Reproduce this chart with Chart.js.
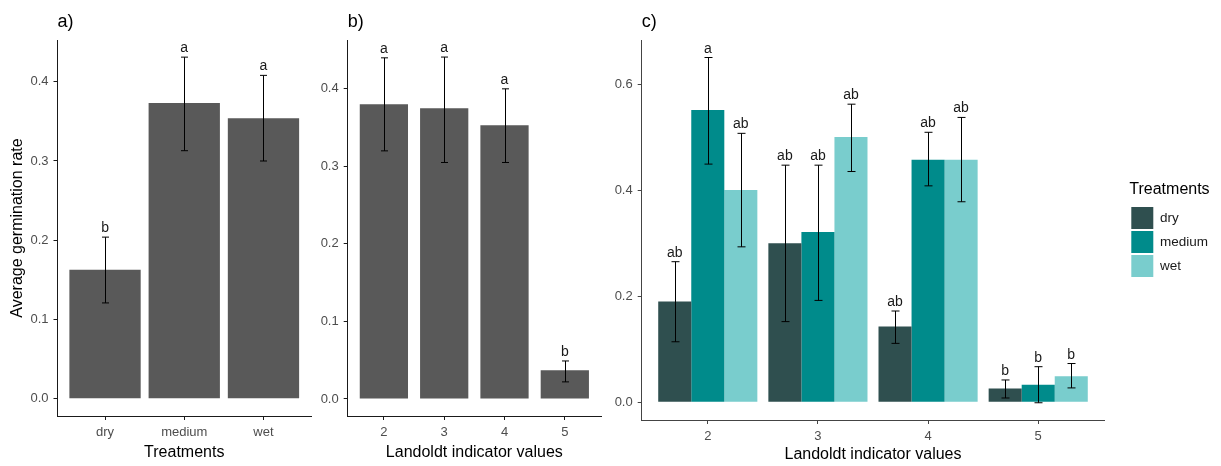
<!DOCTYPE html>
<html>
<head>
<meta charset="utf-8">
<script src="https://cdn.jsdelivr.net/npm/chart.js@4.4.1/dist/chart.umd.min.js"></script>
<style>
  html, body { margin: 0; padding: 0; background: #fff; }
  #wrap { position: relative; width: 1221px; height: 466px; overflow: hidden; }
  canvas { position: absolute; top: 0; }
</style>
</head>
<body>
<div id="wrap">
  <canvas id="chartA" width="330" height="466" style="left:0px"></canvas>
  <canvas id="chartB" width="300" height="466" style="left:310px"></canvas>
  <canvas id="chartC" width="611" height="466" style="left:610px"></canvas>
</div>
<script>
// a) germination by treatment
const treatments = ['dry', 'medium', 'wet'];
const rateByTreatment = [0.163, 0.373, 0.354];
const lowByTreatment = [0.121, 0.313, 0.300];
const highByTreatment = [0.204, 0.431, 0.408];
const lettersByTreatment = ['b', 'a', 'a'];

// b) germination by Landoldt value
const landoldt = ['2', '3', '4', '5'];
const rateByLandoldt = [0.380, 0.375, 0.353, 0.037];
const lowByLandoldt = [0.320, 0.305, 0.305, 0.022];
const highByLandoldt = [0.440, 0.441, 0.400, 0.049];
const lettersByLandoldt = ['a', 'a', 'a', 'b'];

// c) both together
const dryRate = [0.190, 0.300, 0.143, 0.026];
const dryLow = [0.114, 0.152, 0.111, 0.008];
const dryHigh = [0.265, 0.447, 0.172, 0.042];
const dryLetters = ['ab', 'ab', 'ab', 'b'];
const mediumRate = [0.551, 0.321, 0.457, 0.033];
const mediumLow = [0.449, 0.192, 0.408, -0.001];
const mediumHigh = [0.650, 0.447, 0.509, 0.067];
const mediumLetters = ['a', 'ab', 'ab', 'b'];
const wetRate = [0.400, 0.500, 0.457, 0.049];
const wetLow = [0.293, 0.435, 0.378, 0.027];
const wetHigh = [0.507, 0.562, 0.537, 0.073];
const wetLetters = ['ab', 'ab', 'ab', 'b'];

const ticksAB = [0, 0.1, 0.2, 0.3, 0.4];
const ticksC = [0, 0.2, 0.4, 0.6];

const FONT = '"Liberation Sans", Arial, sans-serif';

// error bars + significance letters
const errorBars = {
    id: 'errorBars',
    afterDatasetsDraw(chart, args, opts) {
        const ctx = chart.ctx;
        const y = chart.scales.y;
        chart.data.datasets.forEach((ds, di) => {
            const meta = chart.getDatasetMeta(di);
            meta.data.forEach((bar, i) => {
                const x = Math.round(bar.x) + 0.5;
                const top = y.getPixelForValue(ds.errHigh[i]);
                const bot = y.getPixelForValue(ds.errLow[i]);
                ctx.save();
                ctx.strokeStyle = '#000';
                ctx.lineWidth = 1;
                ctx.beginPath();
                ctx.moveTo(x, top);
                ctx.lineTo(x, bot);
                ctx.moveTo(x - opts.cap, top);
                ctx.lineTo(x + opts.cap, top);
                ctx.moveTo(x - opts.cap, bot);
                ctx.lineTo(x + opts.cap, bot);
                ctx.stroke();
                ctx.fillStyle = '#1a1a1a';
                ctx.font = '14px ' + FONT;
                ctx.textAlign = 'center';
                ctx.textBaseline = 'alphabetic';
                ctx.fillText(ds.letters[i], bar.x, top - 5);
                ctx.restore();
            });
        });
    }
};

// "a)", "b)", "c)"
const panelTag = {
    id: 'panelTag',
    afterDraw(chart, args, opts) {
        const ctx = chart.ctx;
        ctx.save();
        ctx.fillStyle = '#000';
        ctx.font = '18px ' + FONT;
        ctx.textAlign = 'left';
        ctx.textBaseline = 'middle';
        ctx.fillText(opts.text, chart.chartArea.left, 22);
        ctx.restore();
    }
};

// push the legend away from the plot like ggplot does
const legendSpot = {
    id: 'legendSpot',
    afterInit(chart) {
        const lg = chart.legend;
        if (!lg) return;
        const fit = lg.fit.bind(lg);
        lg.fit = function () { fit(); this.width = 96; };
    },
    afterLayout(chart) {
        const lg = chart.legend;
        if (!lg) return;
        const a = chart.chartArea;
        lg.left = a.right + 25;
        lg.right = lg.left + lg.width;
        lg.top = a.top;
        lg.bottom = a.bottom + 0.8;
    }
};

function toPoints(values) {
    return values.map((v, i) => ({ x: i + 1, y: v }));
}

function makePanel(id, p) {
    const axisColor = p.axisColor;
    return new Chart(document.getElementById(id), {
        type: 'bar',
        data: { datasets: p.datasets },
        plugins: [errorBars, panelTag, legendSpot],
        options: {
            responsive: false,
            animation: false,
            layout: { padding: { top: 40, right: p.padRight, left: 0, bottom: 0 } },
            datasets: {
                bar: {
                    barPercentage: p.barPercentage,
                    categoryPercentage: p.categoryPercentage,
                    borderWidth: 0
                }
            },
            scales: {
                x: {
                    type: 'linear',
                    offset: false,
                    min: 0.4,
                    max: p.labels.length + 0.6,
                    afterBuildTicks: s => { s.ticks = p.labels.map((l, i) => ({ value: i + 1 })); },
                    afterFit: s => { s.height = p.xHeight; },
                    ticks: {
                        autoSkip: false,
                        maxRotation: 0,
                        padding: 5,
                        color: '#4d4d4d',
                        font: { size: 13, family: FONT },
                        callback: (v, i) => p.labels[i]
                    },
                    grid: { display: true, offset: false, drawOnChartArea: false, drawTicks: true, tickLength: 4, color: axisColor },
                    border: { display: true, color: axisColor, width: 1 },
                    title: {
                        display: true,
                        text: p.xTitle,
                        color: '#000',
                        font: { size: 16, family: FONT },
                        padding: { top: 0, bottom: p.xTitlePad }
                    }
                },
                y: {
                    type: 'linear',
                    min: p.yMin,
                    max: p.yMax,
                    afterBuildTicks: s => { s.ticks = p.yTicks.map(v => ({ value: v })); },
                    afterFit: s => { s.width = p.yWidth; },
                    ticks: {
                        padding: 5,
                        color: '#4d4d4d',
                        font: { size: 13, family: FONT },
                        callback: v => v.toFixed(1)
                    },
                    grid: { display: true, drawOnChartArea: false, drawTicks: true, tickLength: 4, color: axisColor },
                    border: { display: true, color: axisColor, width: 1 },
                    title: {
                        display: !!p.yTitle,
                        text: p.yTitle || '',
                        color: '#000',
                        font: { size: 16, family: FONT },
                        padding: { top: 8, bottom: 0 }
                    }
                }
            },
            plugins: {
                tooltip: { enabled: false },
                legend: p.legend || { display: false },
                errorBars: { cap: p.cap },
                panelTag: { text: p.tag }
            }
        }
    });
}

makePanel('chartA', {
    tag: 'a)',
    labels: treatments,
    xTitle: 'Treatments',
    yTitle: 'Average germination rate',
    yMin: -0.0216, yMax: 0.4526, yTicks: ticksAB,
    yWidth: 57.5, xHeight: 50, padRight: 19, xTitlePad: 4,
    barPercentage: 0.9, categoryPercentage: 1, cap: 3.5,
    axisColor: '#1a1a1a',
    datasets: [{
        label: 'rate',
        data: toPoints(rateByTreatment),
        backgroundColor: '#595959',
        errLow: lowByTreatment, errHigh: highByTreatment, letters: lettersByTreatment
    }]
});

makePanel('chartB', {
    tag: 'b)',
    labels: landoldt,
    xTitle: 'Landoldt indicator values',
    yMin: -0.022, yMax: 0.463, yTicks: ticksAB,
    yWidth: 37.7, xHeight: 50, padRight: 9, xTitlePad: 4,
    barPercentage: 0.8, categoryPercentage: 1, cap: 3.5,
    axisColor: '#1a1a1a',
    datasets: [{
        label: 'rate',
        data: toPoints(rateByLandoldt),
        backgroundColor: '#595959',
        errLow: lowByLandoldt, errHigh: highByLandoldt, letters: lettersByLandoldt
    }]
});

makePanel('chartC', {
    tag: 'c)',
    labels: landoldt,
    xTitle: 'Landoldt indicator values',
    yMin: -0.0335, yMax: 0.683, yTicks: ticksC,
    yWidth: 31.7, xHeight: 46, padRight: 20.7, xTitlePad: 2,
    barPercentage: 1, categoryPercentage: 0.9, cap: 4,
    axisColor: '#444',
    legend: {
        display: true,
        position: 'right',
        align: 'center',
        title: {
            display: true,
            text: 'Treatments',
            position: 'start',
            color: '#000',
            font: { size: 16, family: FONT },
            padding: { top: 0, bottom: 4 }
        },
        labels: {
            boxWidth: 22,
            boxHeight: 22,
            padding: 2,
            color: '#1a1a1a',
            font: { size: 13.5, family: FONT }
        }
    },
    datasets: [
        { label: 'dry', data: toPoints(dryRate), backgroundColor: '#2F4F4F',
          errLow: dryLow, errHigh: dryHigh, letters: dryLetters },
        { label: 'medium', data: toPoints(mediumRate), backgroundColor: '#008B8B',
          errLow: mediumLow, errHigh: mediumHigh, letters: mediumLetters },
        { label: 'wet', data: toPoints(wetRate), backgroundColor: '#79CDCD',
          errLow: wetLow, errHigh: wetHigh, letters: wetLetters }
    ]
});
</script>
</body>
</html>
